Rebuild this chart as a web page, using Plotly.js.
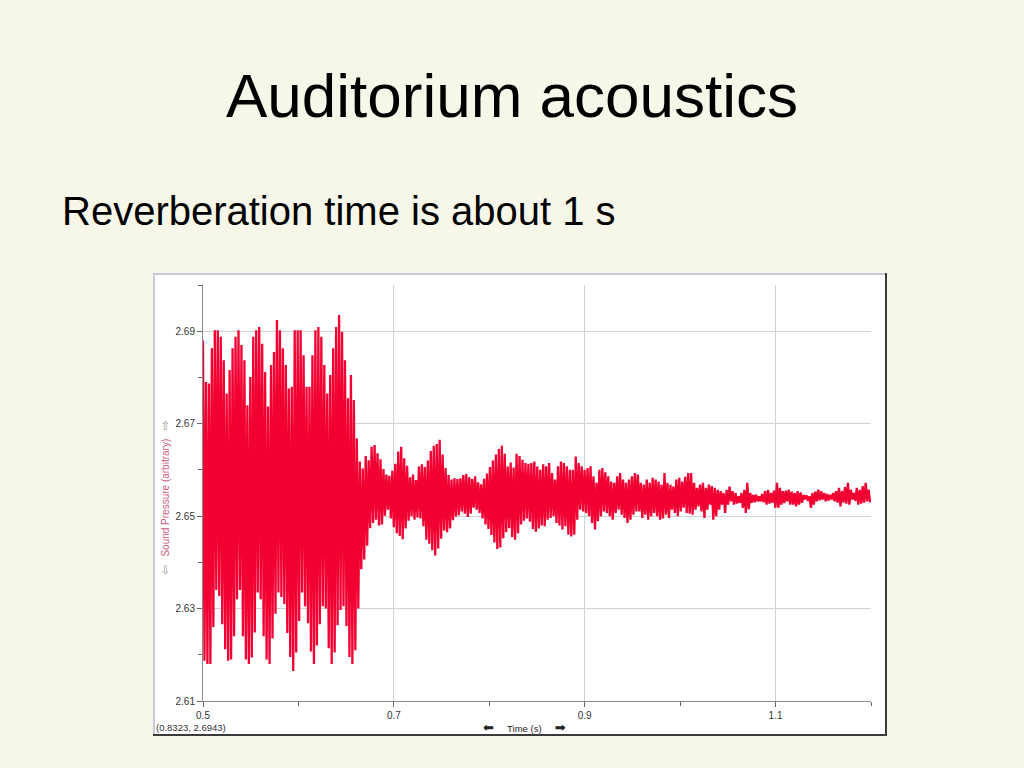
<!DOCTYPE html>
<html>
<head>
<meta charset="utf-8">
<script src="https://cdn.plot.ly/plotly-3.0.1.min.js"></script>
<style>
  html, body { margin: 0; padding: 0; background: #f7f7e9; }
  #chart { width: 1024px; height: 768px; }
</style>
</head>
<body>
<div id="chart"></div>
<script>
// ---- Data ----
// Sampling of the oscillation: one high and one low extreme per cycle
const startTime = 0.5;      // s
const cycleStep = 0.0031;   // s per oscillation cycle

// Burst part (loudspeaker on), upper extremes per cycle
const burstHigh = [
  2.688, 2.679, 2.6787, 2.6863, 2.6902, 2.6902, 2.6888, 2.6837, 2.6765, 2.6816,
  2.6863, 2.6888, 2.6902, 2.687, 2.6837, 2.674, 2.6801, 2.6888, 2.6902, 2.6909,
  2.6873, 2.6812, 2.6737, 2.6827, 2.6855, 2.6924, 2.6902, 2.6863, 2.6827, 2.6776,
  2.678, 2.6902, 2.6902, 2.6902, 2.6848, 2.678, 2.678, 2.6848, 2.6902, 2.6909,
  2.6888, 2.6827, 2.6765, 2.6805, 2.6863, 2.6909, 2.6935, 2.6899, 2.6837, 2.6755,
  2.6805, 2.6751, 2.6668, 2.6618, 2.6603
];
// Burst part, lower extremes per cycle
const burstLow = [
  2.6187, 2.618, 2.618, 2.626, 2.634, 2.6327, 2.6266, 2.6212, 2.6187, 2.619,
  2.624, 2.632, 2.634, 2.624, 2.619, 2.618, 2.6194, 2.6248, 2.6335, 2.632,
  2.624, 2.619, 2.618, 2.6235, 2.6289, 2.6335, 2.6325, 2.631, 2.6247, 2.6195,
  2.6165, 2.6205, 2.6273, 2.6335, 2.6305, 2.6268, 2.6207, 2.618, 2.622, 2.6266,
  2.6305, 2.630, 2.6214, 2.618, 2.6205, 2.6264, 2.6297, 2.6305, 2.6262, 2.6195,
  2.618, 2.621, 2.630, 2.6385, 2.6406
];
// Reverberant decay, upper extremes per cycle
const decayHigh = [
  2.663, 2.6621, 2.665, 2.6654, 2.6636, 2.6623, 2.6602, 2.659, 2.6587, 2.6598,
  2.6613, 2.664, 2.665, 2.6625, 2.6609, 2.6584, 2.659, 2.6578, 2.6607, 2.6612,
  2.6606, 2.662, 2.6641, 2.6652, 2.6656, 2.6665, 2.6633, 2.6604, 2.6589, 2.6579,
  2.6582, 2.658, 2.6582, 2.6589, 2.6591, 2.6584, 2.658, 2.6586, 2.6573, 2.6569,
  2.6581, 2.6592, 2.6606, 2.662, 2.6633, 2.6645, 2.6652, 2.6635, 2.6607, 2.6616,
  2.6605, 2.6635, 2.663, 2.6622, 2.6615, 2.6613, 2.6615, 2.6618, 2.6607, 2.66,
  2.6612,
  2.6608, 2.6615, 2.6593, 2.6579, 2.6608, 2.6618, 2.6615, 2.6608, 2.66, 2.66,
  2.6629, 2.6615, 2.6608, 2.66, 2.6604, 2.6608, 2.6586, 2.6572, 2.66, 2.6604,
  2.6595, 2.6586, 2.6575, 2.6572, 2.6586, 2.6593, 2.6579, 2.6572, 2.6579, 2.6586,
  2.6593, 2.659, 2.6572, 2.6568, 2.6579, 2.6572, 2.6583, 2.6579, 2.6575, 2.6568,
  2.6593, 2.6572, 2.6568, 2.6564, 2.6579, 2.6583, 2.6575, 2.6585, 2.6593, 2.6593,
  2.6572, 2.6561, 2.6568, 2.6572, 2.6561, 2.6568, 2.6565, 2.6561, 2.6557, 2.6554,
  2.655, 2.6557, 2.6564,
  2.6554, 2.655, 2.6543, 2.655, 2.6557, 2.6572, 2.655, 2.6546, 2.6546, 2.6543,
  2.6548, 2.6554, 2.6557, 2.655, 2.6555, 2.6572, 2.6561, 2.6554, 2.6555, 2.6557,
  2.6553, 2.655, 2.6554, 2.6551, 2.6546, 2.6545, 2.6543, 2.655, 2.6553, 2.6557,
  2.6554, 2.655, 2.6548, 2.6546, 2.655, 2.6554, 2.6561, 2.6554, 2.6563, 2.6572,
  2.6557, 2.655, 2.6561, 2.6557, 2.6565, 2.6572, 2.6557
];
// Reverberant decay, lower extremes per cycle
const decayLow = [
  2.6436, 2.6474, 2.6485, 2.6492, 2.648, 2.6482, 2.6501, 2.6514, 2.6495, 2.6476,
  2.6463, 2.6457, 2.645, 2.6473, 2.649, 2.65, 2.6492, 2.6497, 2.6495, 2.6478,
  2.6449, 2.644, 2.6426, 2.6415, 2.643, 2.6451, 2.6469, 2.6465, 2.6473, 2.6491,
  2.6499, 2.6502, 2.651, 2.6505, 2.6498, 2.6505, 2.6518, 2.6514, 2.6507, 2.6495,
  2.6482, 2.6472, 2.6459, 2.6443, 2.6429, 2.6432, 2.6452, 2.6465, 2.6474, 2.6455,
  2.6449, 2.6463, 2.6482, 2.649, 2.6495, 2.6488, 2.6472, 2.6466, 2.6473, 2.648,
  2.6478,
  2.6492, 2.6496, 2.65, 2.6485, 2.648, 2.6471, 2.6478, 2.646, 2.6456, 2.646,
  2.6492, 2.6514, 2.651, 2.6507, 2.65, 2.6485, 2.6471, 2.6489, 2.65, 2.651,
  2.6507, 2.65, 2.6492, 2.6507, 2.6514, 2.6503, 2.6496, 2.6485, 2.6492, 2.6503,
  2.651, 2.651, 2.6496, 2.6503, 2.6492, 2.65, 2.6507, 2.65, 2.6492, 2.6495,
  2.6503, 2.6496, 2.6514, 2.6507, 2.65, 2.651, 2.6518, 2.6507, 2.6505, 2.6503,
  2.6514, 2.6521, 2.651, 2.6496, 2.6514, 2.6525, 2.6492, 2.65, 2.6514, 2.6525,
  2.6507, 2.6525, 2.6532,
  2.6525, 2.6527, 2.6529, 2.6518, 2.6507, 2.6515, 2.6529, 2.653, 2.6532, 2.6532,
  2.653, 2.6525, 2.6527, 2.6529, 2.6518, 2.6518, 2.6525, 2.6528, 2.6532, 2.6525,
  2.6525, 2.6521, 2.6525, 2.6529, 2.6536, 2.6533, 2.6518, 2.6525, 2.6532, 2.6534,
  2.6536, 2.6532, 2.6534, 2.6536, 2.6532, 2.6529, 2.6521, 2.6529, 2.6527, 2.6525,
  2.6536, 2.6533, 2.6525, 2.6527, 2.6529, 2.6532, 2.653
];

// Axis ticks
const xTickVals = [0.5, 0.7, 0.9, 1.1];
const xMinorVals = [0.6, 0.8, 1.0, 1.2];
const yTickVals = [2.61, 2.63, 2.65, 2.67, 2.69];
const yMinorVals = [2.62, 2.64, 2.66, 2.68, 2.70];
const xRange = [0.5, 1.2];
const yRange = [2.61, 2.70];

// Texts
const slideTitle = 'Auditorium acoustics';
const slideSubtitle = 'Reverberation time is about 1 s';
const xTitle = 'Time (s)';
const yTitle = 'Sound Pressure (arbitrary)';
const cursorReadout = '(0.8323, 2.6943)';

// ---- Build the waveform trace ----
const highs = burstHigh.concat(decayHigh);
const lows = burstLow.concat(decayLow);
const tt = [], vv = [];
for (let i = 0; i < highs.length; i++) {
  tt.push(startTime + i * cycleStep);
  vv.push(highs[i]);
  tt.push(startTime + (i + 0.5) * cycleStep);
  vv.push(lows[i]);
}

// plot area in page pixels
const PL = 203, PR = 871, PT = 285, PB = 701;
const px = x => (x - PL) / (PR - PL);
const py = y => (PB - y) / (PB - PT);

const font = '"Liberation Sans", Arial, "DejaVu Sans", sans-serif';
const nb = '\u00a0';

const trace = {
  type: 'scatter', mode: 'lines', x: tt, y: vv,
  line: { color: '#f20032', width: 2.3, simplify: false },
  hoverinfo: 'skip'
};

const layout = {
  width: 1024, height: 768,
  margin: { l: PL, r: 1024 - PR, t: PT, b: 768 - PB, pad: 0 },
  paper_bgcolor: '#f7f7e9',
  plot_bgcolor: '#ffffff',
  showlegend: false,
  font: { family: font, color: '#333' },
  xaxis: {
    range: xRange, tickvals: xTickVals, ticktext: xTickVals.map(v => v.toFixed(1)),
    ticks: 'outside', ticklen: 5, tickcolor: '#666', tickwidth: 1,
    showline: true, linecolor: '#8a8a8a', linewidth: 1,
    showgrid: true, gridcolor: '#d2d2d2', gridwidth: 1, zeroline: false,
    tickfont: { size: 10, color: '#333', family: font },
    minor: { tickvals: xMinorVals, ticks: 'outside', ticklen: 4, tickcolor: '#666', showgrid: false }
  },
  yaxis: {
    range: yRange, tickvals: yTickVals, ticktext: yTickVals.map(v => v.toFixed(2)),
    ticks: 'outside', ticklen: 5, tickcolor: '#666', tickwidth: 1,
    showline: true, linecolor: '#8a8a8a', linewidth: 1,
    showgrid: true, gridcolor: '#d2d2d2', gridwidth: 1, zeroline: false,
    tickfont: { size: 10, color: '#333', family: font },
    minor: { tickvals: yMinorVals, ticks: 'outside', ticklen: 4, tickcolor: '#666', showgrid: false }
  },
  shapes: [
    { type: 'rect', xref: 'paper', yref: 'paper', layer: 'below',
      x0: px(153), x1: px(887), y0: py(736), y1: py(273),
      fillcolor: '#ffffff', line: { width: 0 } },
    { type: 'line', xref: 'paper', yref: 'paper', layer: 'below',
      x0: px(153), x1: px(887), y0: py(274), y1: py(274), line: { color: '#c9c9dc', width: 2 } },
    { type: 'line', xref: 'paper', yref: 'paper', layer: 'below',
      x0: px(154), x1: px(154), y0: py(273), y1: py(736), line: { color: '#c9c9dc', width: 2 } },
    { type: 'line', xref: 'paper', yref: 'paper', layer: 'below',
      x0: px(886), x1: px(886), y0: py(273), y1: py(736), line: { color: '#3a3a3a', width: 2 } },
    { type: 'line', xref: 'paper', yref: 'paper', layer: 'below',
      x0: px(153), x1: px(887), y0: py(735), y1: py(735), line: { color: '#3a3a3a', width: 2 } }
  ],
  annotations: [
    { text: slideTitle, xref: 'paper', yref: 'paper', x: px(512), y: py(96),
      xanchor: 'center', yanchor: 'middle', showarrow: false,
      font: { family: font, size: 62, color: '#000' } },
    { text: slideSubtitle, xref: 'paper', yref: 'paper', x: px(60), y: py(211),
      xanchor: 'left', yanchor: 'middle', showarrow: false,
      font: { family: font, size: 40, color: '#000' } },
    { text: '<span style="font-size:13px">\u2B05</span>' + nb.repeat(5) + xTitle + nb.repeat(5) + '<span style="font-size:13px">\u27A1</span>',
      xref: 'paper', yref: 'paper', x: px(524), y: py(727),
      xanchor: 'center', yanchor: 'middle', showarrow: false,
      font: { family: font, size: 9.5, color: '#222' } },
    { text: '<span style="color:#9a9a9a;font-size:12px">\u21E6</span>' + nb.repeat(3) + yTitle + nb.repeat(3) + '<span style="color:#9a9a9a;font-size:12px">\u21E8</span>',
      xref: 'paper', yref: 'paper', x: px(165), y: py(498), textangle: -90,
      xanchor: 'center', yanchor: 'middle', showarrow: false,
      font: { family: font, size: 10, color: '#cc5a80' } },
    { text: cursorReadout, xref: 'paper', yref: 'paper', x: px(154), y: py(727),
      xanchor: 'left', yanchor: 'middle', showarrow: false,
      font: { family: font, size: 9.5, color: '#333' } }
  ]
};

Plotly.newPlot('chart', [trace], layout, { displayModeBar: false, staticPlot: true });
</script>
</body>
</html>
